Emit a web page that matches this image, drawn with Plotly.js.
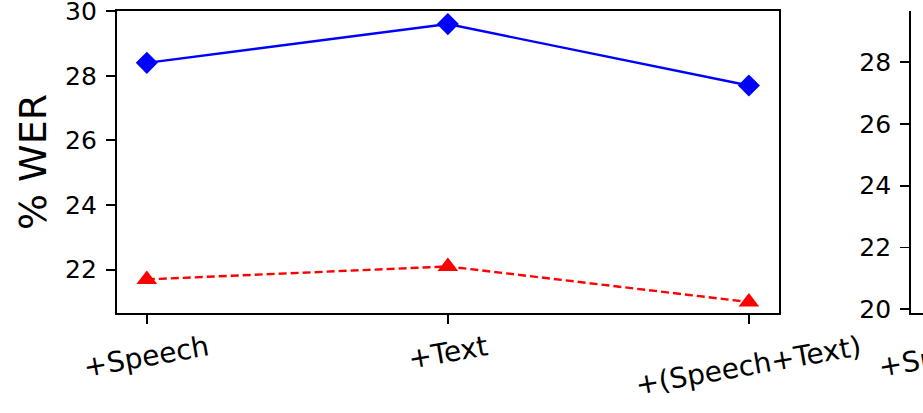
<!DOCTYPE html>
<html>
<head>
<meta charset="utf-8">
<script src="https://cdn.plot.ly/plotly-3.0.1.min.js"></script>
<style>
html, body { margin: 0; padding: 0; overflow: hidden; background: #fff; }
#chart { width: 1000px; height: 413px; }
</style>
</head>
<body>
<div id="chart"></div>
<script>
// ---- data ----
const categories = ['+Speech', '+Text', '+(Speech+Text)'];
const werBlue = [28.4, 29.6, 27.7];
const werRed = [21.7, 22.1, 21.0];
const yTicks1 = [22, 24, 26, 28, 30];
const yTicks2 = [20, 22, 24, 26, 28];
const yTitle = '% WER';

// ---- layout ----
const W = 1000, H = 413;
const font = 'DejaVu Sans, sans-serif';
const idx = categories.map((c, i) => i);
const pxPerCat = (749 - 148) / 2;

const traces = [
  {
    x: idx, y: werBlue, xaxis: 'x', yaxis: 'y',
    type: 'scatter', mode: 'lines+markers',
    line: { color: '#0000ff', width: 2.4 },
    marker: { symbol: 'diamond', size: 17, color: '#0000ff' },
    showlegend: false, cliponaxis: false
  },
  {
    x: idx, y: werRed, xaxis: 'x', yaxis: 'y',
    type: 'scatter', mode: 'lines+markers',
    line: { color: '#ff0000', width: 2.4, dash: '8px,4px' },
    marker: { symbol: 'triangle-up', size: 18, color: '#ff0000' },
    showlegend: false, cliponaxis: false
  }
];

const axCommon = {
  showline: true, mirror: true, linecolor: '#000', linewidth: 1.9,
  ticks: 'outside', ticklen: 9, tickwidth: 1.9, tickcolor: '#000',
  showgrid: false, zeroline: false, ticklabeloverflow: 'allow',
  tickfont: { family: font, size: 25, color: '#000' }
};

const yDom = [(H - 313) / H, (H - 11) / H];
const x2Dom = [911 / W, 1];
const x2Range = [-0.1, -0.1 + (W - 911) / pxPerCat];

const annotations = [];
categories.forEach((c, i) => {
  ['x', 'x2'].forEach(xr => {
    if (xr === 'x2' && i > x2Range[1]) return;
    annotations.push({
      text: c, x: i, xref: xr, y: yDom[0], yref: 'paper',
      xanchor: 'center', yanchor: 'top', yshift: -14,
      textangle: -10, showarrow: false,
      font: { family: font, size: 28, color: '#000' }
    });
  });
});

const layout = {
  width: W, height: H,
  margin: { l: 0, r: 0, t: 0, b: 0 },
  paper_bgcolor: '#fff', plot_bgcolor: '#fff',
  xaxis: Object.assign({}, axCommon, {
    domain: [116.7 / W, 779 / W], range: [-0.1, 2.1],
    tickvals: idx, showticklabels: false, anchor: 'y'
  }),
  yaxis: Object.assign({}, axCommon, {
    domain: yDom, range: [20.66, 30.005], tickvals: yTicks1, anchor: 'x',
    ticklabelstandoff: 4,
    title: { text: yTitle, font: { family: font, size: 38, color: '#000' }, standoff: 7 }
  }),
  xaxis2: Object.assign({}, axCommon, {
    domain: x2Dom, range: x2Range,
    tickvals: idx, showticklabels: false, anchor: 'y2', mirror: false
  }),
  yaxis2: Object.assign({}, axCommon, {
    domain: yDom, range: [19.88, 29.65], tickvals: yTicks2, anchor: 'x2',
    ticklabelstandoff: 4
  }),
  annotations: annotations
};

Plotly.newPlot('chart', traces, layout, { staticPlot: true, displayModeBar: false });
</script>
</body>
</html>
